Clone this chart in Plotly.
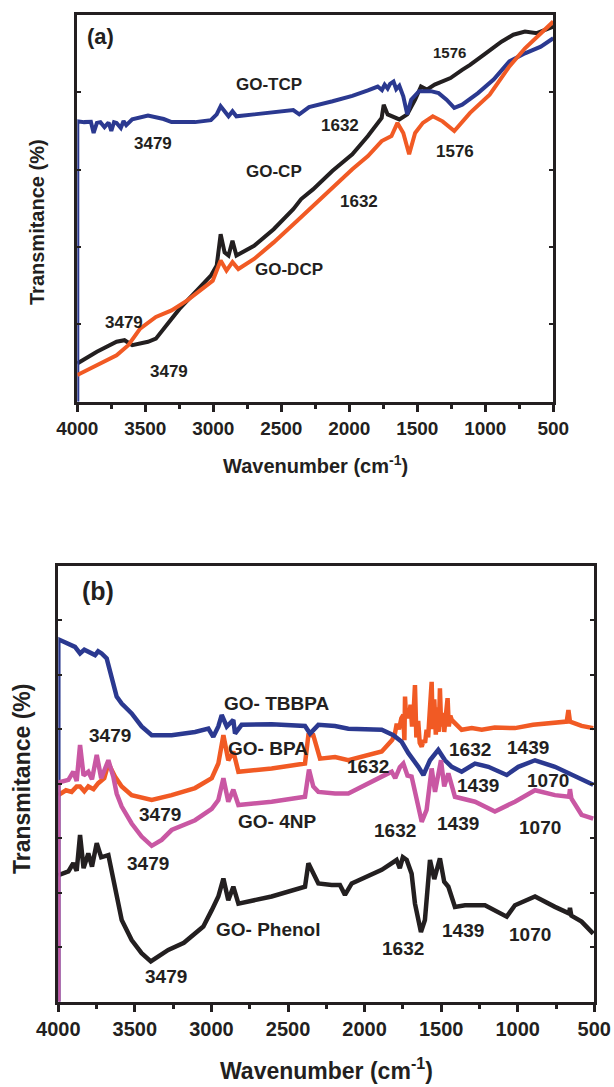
import plotly.graph_objects as go

# ---------------- Panel (a) data ----------------
tcp_wn = [4000, 4000, 3950, 3900, 3880, 3856, 3830, 3800, 3770, 3750, 3730, 3711, 3680, 3660, 3640,
          3596, 3480, 3365, 3307, 3134, 3018, 2975, 2946, 2917, 2888, 2859, 2830, 2700, 2556, 2412,
          2368, 2296, 2123, 1978, 1863, 1791, 1760, 1740, 1718, 1700, 1675, 1655, 1632, 1603, 1574,
          1545, 1487, 1401, 1343, 1285, 1228, 1170, 1054, 939, 823, 708, 592, 500]
tcp_t = [0, 72.5, 72.3, 72.4, 69.5, 72.1, 72.3, 71.0, 72.2, 70.0, 72.3, 72.1, 70.8, 72.6, 71.5,
         73.0, 74.0, 73.1, 72.3, 72.3, 72.8, 74.3, 76.4, 75.1, 73.8, 75.1, 73.8, 74.3, 74.9, 75.4,
         74.3, 76.2, 77.7, 79.1, 80.5, 81.5, 80.6, 82.0, 81.0, 82.2, 82.8, 80.8, 81.7, 79.0, 74.3,
         78.1, 80.3, 80.3, 79.8, 78.1, 76.0, 76.8, 79.8, 83.3, 88.0, 90.1, 91.8, 94.0]

cp_wn = [4000, 3856, 3711, 3653, 3596, 3480, 3422, 3365, 3249, 3134, 3018, 2975, 2946, 2917, 2888,
         2859, 2830, 2700, 2556, 2412, 2354, 2267, 2123, 1978, 1863, 1762, 1747, 1718, 1690, 1632,
         1574, 1516, 1473, 1430, 1372, 1256, 1170, 1112, 997, 881, 794, 708, 621, 500]
cp_t = [9.9, 12.9, 15.5, 15.9, 14.6, 15.5, 16.3, 18.9, 24.0, 28.3, 32.6, 35.2, 43.3, 38.6, 37.8,
        41.6, 37.8, 40.3, 44.6, 49.8, 52.4, 54.9, 59.7, 64.0, 68.7, 73.4, 76.8, 74.3, 73.8, 73.0,
        74.3, 78.1, 81.5, 80.7, 82.0, 83.7, 85.8, 87.1, 90.1, 93.1, 94.9, 95.7, 95.3, 97.0]

dcp_wn = [4000, 3856, 3711, 3625, 3538, 3422, 3307, 3191, 3076, 3004, 2946, 2903, 2859, 2816, 2700,
          2556, 2383, 2267, 2123, 1978, 1863, 1762, 1690, 1646, 1603, 1560, 1516, 1459, 1386, 1314,
          1228, 1112, 968, 823, 708, 592, 500]
dcp_t = [6.9, 9.4, 12.0, 14.6, 18.9, 21.9, 23.6, 26.2, 29.2, 31.3, 36.5, 33.9, 36.1, 34.3, 36.9,
         41.2, 46.8, 50.6, 55.4, 60.1, 63.5, 67.4, 68.7, 72.1, 69.5, 64.0, 69.5, 72.1, 73.8, 72.5,
         70.0, 74.7, 79.4, 86.7, 91.4, 95.3, 98.3]

# ---------------- Panel (b) data ----------------
tbbpa_wn = [4000, 4000, 3891, 3858, 3830, 3804, 3760, 3740, 3717, 3684, 3651, 3619, 3586, 3521, 3456,
            3390, 3260, 3107, 3020, 2988, 2955, 2933, 2900, 2857, 2846, 2803, 2607, 2389, 2356, 2302,
            2193, 2106, 1888, 1812, 1758, 1714, 1649, 1616, 1573, 1519, 1475, 1431, 1366, 1279, 1192,
            1072, 996, 887, 757, 670, 583, 507]
tbbpa_t = [0, 66.5, 65.1, 63.9, 64.6, 64.2, 63.6, 64.3, 63.9, 63.0, 59.6, 56.0, 54.7, 52.9, 50.5,
           48.9, 48.9, 49.5, 50.1, 48.6, 50.5, 52.6, 50.5, 51.7, 49.2, 50.8, 50.9, 50.6, 49.2, 50.8,
           50.6, 50.1, 49.9, 48.9, 47.7, 45.6, 43.1, 41.6, 44.3, 46.2, 44.3, 43.1, 42.2, 43.7, 43.1,
           41.6, 43.1, 44.3, 43.1, 41.9, 40.7, 39.8]

bpa_wn = [4000, 3950, 3913, 3880, 3858, 3830, 3804, 3770, 3739, 3700, 3673, 3650, 3630, 3586, 3521,
          3390, 3260, 3107, 2998, 2955, 2922, 2890, 2857, 2824, 2607, 2389, 2367, 2335, 2291, 2193,
          2106, 1888, 1850, 1820, 1802, 1790, 1775, 1760, 1747, 1740, 1736, 1730, 1720, 1710, 1700,
          1690, 1680, 1671, 1662, 1650, 1640, 1627, 1615, 1605, 1595, 1585, 1575, 1562, 1555, 1545,
          1535, 1525, 1515, 1508, 1500, 1490, 1480, 1470, 1458, 1450, 1440, 1431, 1366, 1300, 1235,
          1150, 1018, 900, 800, 680, 669, 659, 583, 507]
bpa_t = [37.9, 38.8, 38.5, 39.5, 39.5, 38.6, 39.5, 39.0, 40.1, 41.0, 43.7, 42.5, 41.3, 39.5, 37.9,
         37.0, 37.9, 39.2, 41.0, 43.7, 48.9, 44.3, 45.9, 42.2, 42.8, 43.7, 48.9, 48.9, 44.6, 44.9,
         44.3, 45.9, 47.0, 48.0, 49.2, 51.0, 50.0, 52.0, 52.6, 48.0, 56.0, 52.5, 53.5, 52.0, 54.5,
         50.5, 53.0, 58.1, 48.5, 51.5, 47.5, 46.8, 48.0, 47.5, 49.9, 48.5, 53.0, 58.7, 50.0, 55.5,
         49.0, 54.0, 49.5, 57.5, 50.5, 53.0, 49.5, 52.5, 55.7, 50.5, 52.5, 51.7, 49.9, 50.2, 49.9,
         50.3, 50.2, 50.8, 51.1, 51.4, 53.5, 51.4, 50.6, 50.2]

np4_wn = [4000, 4000, 3934, 3902, 3880, 3858, 3835, 3804, 3780, 3749, 3720, 3673, 3641, 3619, 3586,
          3521, 3456, 3390, 3325, 3260, 3107, 2998, 2955, 2922, 2890, 2857, 2824, 2607, 2389, 2363,
          2335, 2302, 2193, 2106, 1888, 1823, 1800, 1770, 1747, 1720, 1693, 1660, 1627, 1595, 1562,
          1540, 1501, 1480, 1453, 1410, 1279, 1149, 1018, 887, 757, 665, 659, 650, 583, 507]
np4_t = [0, 40.2, 40.7, 42.2, 40.5, 47.1, 41.5, 42.2, 40.8, 45.3, 41.0, 44.3, 41.3, 38.2, 35.8,
         32.7, 30.3, 28.6, 29.7, 31.5, 33.3, 35.4, 37.0, 41.0, 36.7, 38.9, 36.1, 36.7, 37.6, 42.6,
         39.5, 38.5, 38.2, 38.2, 41.3, 42.2, 41.0, 43.0, 43.7, 41.5, 41.3, 37.0, 33.0, 35.2, 42.8,
         38.5, 44.3, 39.5, 41.9, 37.6, 36.7, 34.9, 36.7, 38.8, 37.9, 37.6, 39.0, 37.3, 34.3, 33.6]

phenol_wn = [4000, 3934, 3902, 3880, 3858, 3835, 3804, 3780, 3749, 3720, 3673, 3650, 3619, 3586, 3521,
             3456, 3396, 3282, 3180, 3053, 2998, 2955, 2922, 2890, 2857, 2824, 2607, 2389, 2367, 2335,
             2302, 2215, 2161, 2128, 2084, 1888, 1845, 1791, 1770, 1750, 1725, 1693, 1671, 1632, 1606,
             1573, 1545, 1508, 1480, 1453, 1410, 1344, 1214, 1149, 1072, 1018, 887, 757, 665, 659,
             650, 583, 507]
phenol_t = [23.2, 23.9, 25.4, 24.0, 30.6, 24.5, 27.2, 24.8, 29.1, 26.5, 26.9, 24.0, 19.3, 15.0, 11.3,
            8.9, 7.4, 9.5, 10.8, 13.8, 16.8, 19.3, 22.6, 18.6, 21.1, 18.0, 19.3, 21.1, 25.4, 23.6,
            21.7, 21.4, 21.4, 19.6, 21.7, 24.2, 25.1, 26.0, 24.5, 26.5, 26.0, 23.5, 18.0, 12.8, 15.0,
            26.0, 22.5, 26.3, 22.0, 21.1, 17.4, 17.7, 17.7, 16.8, 15.6, 17.7, 19.3, 17.4, 16.2, 17.2,
            15.8, 14.7, 12.5]

# annotations: (text, wavenumber, transmittance, size)
labels_a = [("(a)", 3827, 94.4, 22), ("GO-TCP", 2590, 82.0, 17), ("3479", 3443, 66.7, 17),
            ("1632", 2065, 71.4, 17), ("1576", 1262, 90.3, 15), ("1576", 1222, 64.8, 17),
            ("GO-CP", 2556, 59.5, 17), ("1632", 1926, 51.8, 17), ("GO-DCP", 2440, 34.3, 17),
            ("3479", 3659, 20.4, 17), ("3479", 3327, 7.9, 17)]
labels_b = [("(b)", 3740, 75.4, 25), ("GO- TBBPA", 2574, 54.7, 19), ("3479", 3662, 48.9, 19),
            ("GO- BPA", 2628, 46.5, 19), ("3479", 3336, 34.3, 19), ("GO- 4NP", 2574, 33.0, 19),
            ("3479", 3412, 25.4, 19), ("GO- Phenol", 2628, 13.2, 19), ("3479", 3294, 4.6, 19),
            ("1632", 1976, 43.1, 19), ("1632", 1312, 46.3, 19), ("1439", 931, 46.7, 19),
            ("1439", 1257, 39.6, 19), ("1070", 800, 40.5, 19), ("1632", 1801, 31.5, 19),
            ("1439", 1388, 32.7, 19), ("1070", 854, 32.0, 19), ("1439", 1355, 13.1, 19),
            ("1070", 920, 12.4, 19), ("1632", 1747, 9.8, 19)]

x_ticks = [4000, 3500, 3000, 2500, 2000, 1500, 1000, 500]

BLUE = "#2b3990"
RED = "#f15a24"
BLACK = "#231f20"
PINK = "#c957a3"
FONT = "Liberation Sans, Arial, sans-serif"

W, H = 614, 1087
fig = go.Figure()

def add(x, y, color, xa, ya, width):
    fig.add_trace(go.Scatter(x=x, y=y, mode="lines", xaxis=xa, yaxis=ya,
                             line=dict(color=color, width=width), showlegend=False,
                             hoverinfo="skip"))

# Panel (a)
add(cp_wn, cp_t, BLACK, "x", "y", 4)
add(tcp_wn, tcp_t, BLUE, "x", "y", 4)
add(dcp_wn, dcp_t, RED, "x", "y", 4)
# Panel (b)
add(phenol_wn, phenol_t, BLACK, "x2", "y2", 4.5)
add(bpa_wn, bpa_t, RED, "x2", "y2", 4.5)
add(tbbpa_wn, tbbpa_t, BLUE, "x2", "y2", 4.5)
add(np4_wn, np4_t, PINK, "x2", "y2", 4.5)

def px_x(v):
    return v / W

def px_y(v):
    return 1 - v / H

def xaxis(domain, size, anchor):
    return dict(domain=domain, range=[4000, 500], tickvals=x_ticks, ticks="outside",
                ticklen=7, tickwidth=3, tickcolor=BLACK, showline=True, linewidth=3,
                linecolor=BLACK, mirror=True, showgrid=False, zeroline=False,
                tickfont=dict(family=FONT, size=size, color=BLACK, weight="bold"),
                minor=dict(dtick=250, ticks="outside", ticklen=4, tickwidth=3, tickcolor=BLACK),
                fixedrange=True, automargin=False, anchor=anchor)

def yaxis(domain, top, dt, anchor):
    return dict(domain=domain, range=[0, top], dtick=dt, ticks="inside", ticklen=4,
                tickwidth=2, tickcolor=BLACK, showticklabels=False, showline=True,
                linewidth=3, linecolor=BLACK, mirror="ticks", showgrid=False,
                zeroline=False, anchor=anchor, fixedrange=True, automargin=False)

fig.update_layout(
    width=W, height=H, margin=dict(l=0, r=0, t=0, b=0, pad=0), autosize=False,
    paper_bgcolor="white", plot_bgcolor="white", template="none",
    xaxis=xaxis([px_x(77.3), px_x(553.3)], 19, "y"),
    yaxis=yaxis([px_y(401.7), px_y(15)], 100, 20, "x"),
    xaxis2=xaxis([px_x(58.3), px_x(594.3)], 20, "y2"),
    yaxis2=yaxis([px_y(1001.7), px_y(565.7)], 80, 10, "x2"),
)

ann = []
for t, x, y, s in labels_a:
    ann.append(dict(text=t, x=x, y=y, xref="x", yref="y", showarrow=False,
                    xanchor="center", yanchor="middle",
                    font=dict(family=FONT, size=s, color=BLACK, weight="bold")))
for t, x, y, s in labels_b:
    ann.append(dict(text=t, x=x, y=y, xref="x2", yref="y2", showarrow=False,
                    xanchor="center", yanchor="middle",
                    font=dict(family=FONT, size=s, color=BLACK, weight="bold")))

# axis titles
titles = [("Wavenumber (cm<sup>-1</sup>)", 315, 465, 20, 0),
          ("Transmitance (%)", 37, 222, 20, -90),
          ("Wavenumber (cm<sup>-1</sup>)", 326, 1069, 23, 0),
          ("Transmitance (%)", 22, 779, 23, -90)]
for t, x, y, s, ang in titles:
    ann.append(dict(text=t, x=px_x(x), y=px_y(y), xref="paper", yref="paper",
                    showarrow=False, textangle=ang, xanchor="center", yanchor="middle",
                    font=dict(family=FONT, size=s, color=BLACK, weight="bold")))

fig.update_layout(annotations=ann)
fig.write_html("out.html", config={"displayModeBar": False, "staticPlot": True},
               post_script="document.body.style.margin='0px';document.body.style.padding='0px';")
